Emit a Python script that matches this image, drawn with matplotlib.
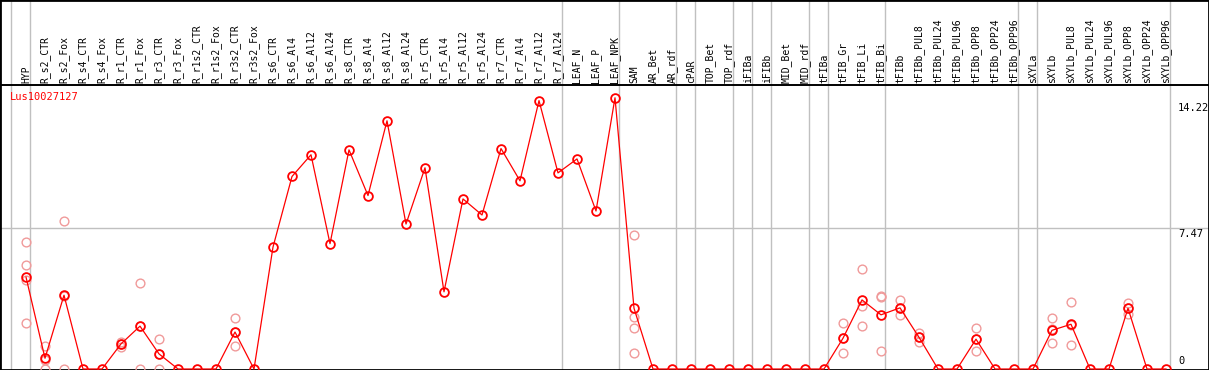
import matplotlib
matplotlib.use("Agg")
import matplotlib.pyplot as plt

gene = "Lus10027127"

conditions = [
    "HYP", "R_s2_CTR", "R_s2_Fox", "R_s4_CTR", "R_s4_Fox", "R_r1_CTR", "R_r1_Fox",
    "R_r3_CTR", "R_r3_Fox", "R_r1s2_CTR", "R_r1s2_Fox", "R_r3s2_CTR", "R_r3s2_Fox",
    "R_s6_CTR", "R_s6_Al4", "R_s6_Al12", "R_s6_Al24", "R_s8_CTR", "R_s8_Al4",
    "R_s8_Al12", "R_s8_Al24", "R_r5_CTR", "R_r5_Al4", "R_r5_Al12", "R_r5_Al24",
    "R_r7_CTR", "R_r7_Al4", "R_r7_Al12", "R_r7_Al24", "LEAF_N", "LEAF_P", "LEAF_NPK",
    "SAM", "AR_Bet", "AR_rdf", "cPAR", "TOP_Bet", "TOP_rdf", "iFIBa", "iFIBb",
    "MID_Bet", "MID_rdf", "tFIBa", "tFIB_Gr", "tFIB_Li", "tFIB_Bi", "tFIBb",
    "tFIBb_PUL8", "tFIBb_PUL24", "tFIBb_PUL96", "tFIBb_OPP8", "tFIBb_OPP24", "tFIBb_OPP96",
    "sXYLa", "sXYLb", "sXYLb_PUL8", "sXYLb_PUL24", "sXYLb_PUL96", "sXYLb_OPP8",
    "sXYLb_OPP24", "sXYLb_OPP96",
]

means = [
    4.87, 0.57, 3.91, 0, 0, 1.33, 2.27,
    0.80, 0, 0, 0, 1.96, 0,
    6.46, 10.20, 11.35, 6.64, 11.61, 9.19,
    13.15, 7.68, 10.66, 4.09, 9.01, 8.16,
    11.68, 9.97, 14.22, 10.39, 11.13, 8.37, 14.37,
    3.22, 0, 0, 0, 0, 0, 0, 0,
    0, 0, 0, 1.63, 3.66, 2.87, 3.24,
    1.68, 0, 0, 1.58, 0, 0,
    0, 2.05, 2.37, 0, 0, 3.22,
    0, 0,
]

replicates = {
    "HYP": [6.73, 5.50, 4.73, 2.44],
    "R_s2_CTR": [1.22, 0.49, 0.0],
    "R_s2_Fox": [7.86, 3.87, 0.0],
    "R_r1_CTR": [1.45, 1.19, 1.35],
    "R_r1_Fox": [4.55, 2.26, 0.0],
    "R_r3_CTR": [1.58, 0.82, 0.0],
    "R_r3s2_CTR": [2.71, 1.22, 1.95],
    "SAM": [7.10, 2.74, 2.16, 0.83],
    "tFIB_Gr": [2.44, 1.62, 0.83],
    "tFIB_Li": [5.31, 3.36, 2.27],
    "tFIB_Bi": [3.86, 3.82, 0.96],
    "tFIBb": [3.66, 2.85, 3.21],
    "tFIBb_PUL8": [1.89, 1.45, 1.70],
    "tFIBb_OPP8": [2.18, 0.97, 1.59],
    "sXYLb": [2.69, 1.36, 2.10],
    "sXYLb_PUL8": [3.54, 1.26, 2.31],
    "sXYLb_OPP8": [3.52, 2.90, 3.24],
}

# grey separators sit just right of these columns (plus one before the first)
separators_after = ["HYP", "R_r7_Al24", "LEAF_NPK", "AR_rdf", "cPAR", "TOP_rdf",
                    "iFIBa", "iFIBb", "MID_rdf", "tFIBa", "tFIB_Bi", "tFIBb_OPP96",
                    "sXYLa", "sXYLb_OPP96"]

y_mid = 7.47
y_top_label = 14.22

W, H = 1209, 370
mono = "DejaVu Sans Mono"
grey = "#c0c0c0"

fig = plt.figure(figsize=(W / 100, H / 100), dpi=100)
ax = fig.add_axes([0, 0, 1, 1])

# pixel layout of the original: first column at x=26, 19 px apart,
# zero at y=369, mid line at y=228, header rule at y=85
x0_px, step_px = 26, 19
zero_px, mid_px, header_px = 369, 228, 85
px_per_unit = (zero_px - mid_px) / y_mid

ax.set_xlim(-x0_px / step_px, (W - x0_px) / step_px)
ax.set_ylim(-(H - zero_px) / px_per_unit, zero_px / px_per_unit)
header_level = (zero_px - header_px) / px_per_unit
label_level = (zero_px - 83) / px_per_unit

xs = list(range(len(conditions)))

sep_x = [-1 + 0.2] + [conditions.index(c) + 0.2 for c in separators_after]
for sx in sep_x:
    ax.axvline(sx, color=grey, linewidth=1, zorder=1)
ax.axhline(y_mid, color=grey, linewidth=1, zorder=1)
ax.axhline(header_level, color="black", linewidth=1.4, zorder=2)

rep_x, rep_y = [], []
for i, c in enumerate(conditions):
    for v in replicates.get(c, []):
        rep_x.append(i)
        rep_y.append(v)
ax.plot(rep_x, rep_y, "o", markerfacecolor="none", markeredgecolor="#f09a9a",
        markersize=6.3, markeredgewidth=1.0, linestyle="none", zorder=3)

ax.plot(xs, means, "-o", color="red", linewidth=0.9, markerfacecolor="none",
        markersize=6.3, markeredgewidth=1.3, zorder=4)

for i, c in enumerate(conditions):
    ax.text(i, label_level, c, rotation=90, ha="center", va="bottom",
            fontsize=7, family=mono, color="black")

ax.text(10 / W, (H - 97) / H, gene, transform=ax.transAxes, color="red",
        ha="left", va="center", fontsize=7.5, family=mono)

right_x = 1178 / W
ax.annotate(f"{y_top_label:.2f}", xy=(right_x, y_top_label),
            xycoords=("axes fraction", "data"), xytext=(0, -2),
            textcoords="offset points", ha="left", va="top", fontsize=7.5, family=mono)
ax.annotate(f"{y_mid:.2f}", xy=(right_x, y_mid),
            xycoords=("axes fraction", "data"), xytext=(0, -1),
            textcoords="offset points", ha="left", va="top", fontsize=7.5, family=mono)
ax.annotate("0", xy=(right_x, 0), xycoords=("axes fraction", "data"),
            xytext=(0, 2), textcoords="offset points", ha="left", va="bottom",
            fontsize=7.5, family=mono)

ax.set_xticks([])
ax.set_yticks([])
for s in ax.spines.values():
    s.set_linewidth(2)
    s.set_color("black")

fig.savefig("out.png", dpi=100, facecolor="white")
